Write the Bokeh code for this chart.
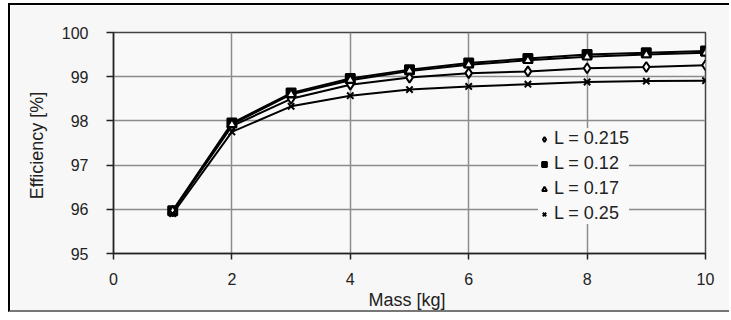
from bokeh.plotting import figure
from bokeh.models import Range1d, Legend, LegendItem, FixedTicker
from bokeh.embed import file_html
from bokeh.resources import INLINE

# ---- data ----
mass = [1, 2, 3, 4, 5, 6, 7, 8, 9, 10]
eff_L0215 = [95.95, 97.88, 98.50, 98.82, 98.98, 99.08, 99.12, 99.19, 99.22, 99.26]
eff_L012 = [95.97, 97.95, 98.63, 98.96, 99.16, 99.31, 99.41, 99.50, 99.54, 99.58]
eff_L017 = [95.96, 97.92, 98.60, 98.92, 99.13, 99.27, 99.37, 99.45, 99.50, 99.54]
eff_L025 = [95.90, 97.75, 98.33, 98.57, 98.71, 98.78, 98.83, 98.88, 98.90, 98.91]
series_labels = ["L = 0.215", "L = 0.12", "L = 0.17", "L = 0.25"]
x_ticks = [0, 2, 4, 6, 8, 10]
y_ticks = [95, 96, 97, 98, 99, 100]

FONT = "Liberation Sans"

p = figure(width=721, height=309,
           x_range=Range1d(0, 10), y_range=Range1d(95, 100),
           output_backend="svg", toolbar_location=None,
           min_border_left=103, min_border_right=26,
           min_border_top=27, min_border_bottom=61)
p.margin = (3, 0, 0, 8)
p.styles = {"border-left": "2px solid #000", "border-top": "2px solid #000",
            "border-bottom": "2px solid #777"}

p.background_fill_color = "#f9f9f9"
p.border_fill_color = "#f7f7f7"
p.outline_line_color = "#444444"
p.outline_line_width = 1.5

# grid
p.xgrid.ticker = FixedTicker(ticks=x_ticks)
p.ygrid.ticker = FixedTicker(ticks=y_ticks)
p.grid.grid_line_color = "#8c8c8c"
p.grid.grid_line_width = 1.5

# axes
p.xaxis.ticker = FixedTicker(ticks=x_ticks)
p.yaxis.ticker = FixedTicker(ticks=y_ticks)
for ax in (p.xaxis[0], p.yaxis[0]):
    ax.axis_line_color = "#222222"
    ax.axis_line_width = 1.5
    ax.major_tick_line_color = "#222222"
    ax.major_tick_line_width = 1.5
    ax.major_tick_in = 0
    ax.minor_tick_line_color = None
    ax.major_label_text_font = FONT
    ax.major_label_text_font_size = "16px"
    ax.major_label_text_color = "#222222"
    ax.axis_label_text_font = FONT
    ax.axis_label_text_font_size = "18px"
    ax.axis_label_text_font_style = "normal"
    ax.axis_label_text_color = "#222222"

p.xaxis.major_tick_out = 6
p.xaxis.major_label_standoff = 13
p.xaxis.axis_label = "Mass  [kg]"
p.xaxis.axis_label_standoff = 2

p.yaxis.major_tick_out = 7
p.yaxis.major_label_standoff = 18
p.yaxis.axis_label = "Efficiency  [%]"
p.yaxis.axis_label_standoff = 12

# series
series = [eff_L0215, eff_L012, eff_L017, eff_L025]
markers = ["diamond", "square", "triangle", "x"]
fills = ["#f9f9f9", "#000000", "#f9f9f9", "#000000"]
sizes = [10, 9, 9, 9]
marker_renderers = []
for ys, mk, fc, sz in zip(series, markers, fills, sizes):
    p.line(mass, ys, line_color="#000000", line_width=2)
    r = p.scatter(mass, ys, marker=mk, size=sz, fill_color=fc,
                  line_color="#000000", line_width=2)
    marker_renderers.append(r)

legend = Legend(
    items=[LegendItem(label=lab, renderers=[r]) for lab, r in zip(series_labels, marker_renderers)],
    location=(425, 29),
)
legend.background_fill_color = "#f9f9f9"
legend.background_fill_alpha = 1.0
legend.border_line_color = None
legend.label_text_font = FONT
legend.label_text_font_size = "18px"
legend.label_text_color = "#222222"
legend.glyph_width = 12
legend.glyph_height = 20
legend.label_height = 20
legend.spacing = 4
legend.padding = 8
legend.margin = 0
legend.label_standoff = 4
p.add_layout(legend)

open("out.html", "w").write(file_html(p, INLINE))
